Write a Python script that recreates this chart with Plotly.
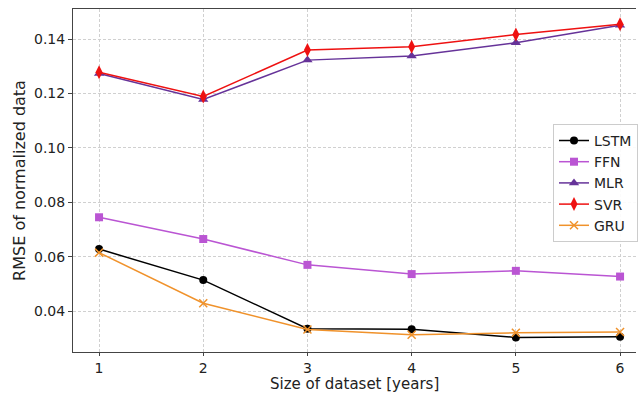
import plotly.graph_objects as go

years = [1, 2, 3, 4, 5, 6]
lstm = [0.0628, 0.0514, 0.0335, 0.0333, 0.0303, 0.0306]
ffn = [0.0745, 0.0665, 0.0570, 0.0536, 0.0548, 0.0527]
mlr = [0.1274, 0.1178, 0.1323, 0.1338, 0.1387, 0.1451]
svr = [0.1278, 0.1189, 0.1360, 0.1372, 0.1417, 0.1455]
gru = [0.0615, 0.0429, 0.0332, 0.0313, 0.0320, 0.0323]
y_ticks = [0.04, 0.06, 0.08, 0.10, 0.12, 0.14]
x_title = "Size of dataset [years]"
y_title = "RMSE of normalized data"

series = [
    ("LSTM", lstm, "black", "circle", 8),
    ("FFN", ffn, "#BA55D3", "square", 8),
    ("MLR", mlr, "#663399", "triangle-up", 9),
    ("SVR", svr, "#EE1111", "diamond-tall", 10),
    ("GRU", gru, "#F0922B", "x-thin", 8),
]

fig = go.Figure()
for name, vals, col, sym, sz in series:
    fig.add_trace(go.Scatter(
        x=years, y=vals, name=name, mode="lines+markers",
        line=dict(color=col, width=1.5),
        marker=dict(symbol=sym, size=sz, color=col,
                    line=dict(color=col, width=1.5 if sym == "x-thin" else 0)),
    ))

font = "DejaVu Sans, sans-serif"
fig.update_layout(
    width=638, height=393,
    margin=dict(l=73, r=0, t=9, b=41),
    paper_bgcolor="white", plot_bgcolor="white",
    font=dict(family=font, size=14, color="#222"),
    legend=dict(x=0.853, y=0.665, xanchor="left", yanchor="top",
                bgcolor="rgba(255,255,255,0.9)", bordercolor="#cccccc", borderwidth=1,
                font=dict(size=14, family=font), tracegroupgap=0),
    xaxis=dict(range=[0.75, 6.153], tickvals=years, ticktext=[str(v) for v in years],
               showgrid=True, gridcolor="#d0d0d0", griddash="3px,2px", gridwidth=1,
               showline=True, linecolor="#444", linewidth=1, mirror=True,
               ticks="outside", ticklen=3, tickcolor="#444", zeroline=False,
               automargin=False),
    yaxis=dict(range=[0.02495, 0.1511], tickvals=y_ticks,
               ticktext=[f"{v:.2f}" for v in y_ticks],
               showgrid=True, gridcolor="#d0d0d0", griddash="3px,2px", gridwidth=1,
               showline=True, linecolor="#444", linewidth=1,
               ticks="outside", ticklen=4, tickcolor="#444", zeroline=False,
               automargin=False,
               title=dict(text=y_title, font=dict(size=16), standoff=4)),
)
fig.add_annotation(text=x_title, xref="paper", yref="paper", x=0.5, y=0,
                   xanchor="center", yanchor="top", yshift=-22, showarrow=False,
                   borderpad=0, font=dict(size=15, family=font, color="#222"))

fig.write_html("out.html")
